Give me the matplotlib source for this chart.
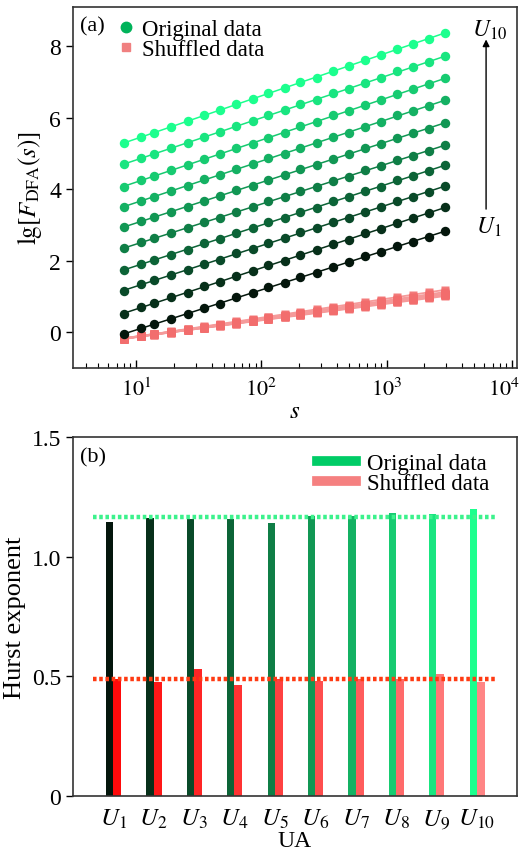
import numpy as np
import matplotlib.pyplot as plt
import matplotlib.transforms as mtransforms
from matplotlib.lines import Line2D
from matplotlib.colors import to_rgb

plt.rcParams['font.family'] = ['Liberation Serif', 'DejaVu Serif']
plt.rcParams['mathtext.fontset'] = 'stix'

# DFA window sizes
scales = [8, 11, 14, 19, 26, 35, 47, 63, 85, 114, 153, 205, 276, 371, 498,
          669, 899, 1208, 1623, 2181, 2931]

# lg F_DFA(s) for the original series U1..U10
orig_lgF = [
    [-0.06, 0.12, 0.22, 0.38, 0.51, 0.68, 0.80, 0.97, 1.09, 1.26, 1.38, 1.55, 1.66, 1.83, 1.95, 2.12, 2.24, 2.41, 2.52, 2.67, 2.83],
    [0.52, 0.70, 0.81, 0.97, 1.10, 1.28, 1.40, 1.58, 1.70, 1.87, 2.00, 2.17, 2.29, 2.46, 2.59, 2.76, 2.89, 3.06, 3.18, 3.32, 3.49],
    [1.16, 1.34, 1.45, 1.60, 1.74, 1.91, 2.03, 2.20, 2.32, 2.49, 2.62, 2.79, 2.91, 3.08, 3.20, 3.37, 3.49, 3.66, 3.79, 3.92, 4.09],
    [1.73, 1.91, 2.02, 2.17, 2.31, 2.49, 2.60, 2.78, 2.90, 3.07, 3.19, 3.37, 3.48, 3.66, 3.78, 3.95, 4.07, 4.25, 4.37, 4.50, 4.67],
    [2.34, 2.52, 2.62, 2.78, 2.91, 3.08, 3.20, 3.37, 3.49, 3.66, 3.78, 3.95, 4.06, 4.24, 4.35, 4.52, 4.64, 4.82, 4.93, 5.07, 5.23],
    [2.93, 3.11, 3.22, 3.37, 3.51, 3.68, 3.80, 3.97, 4.09, 4.26, 4.39, 4.56, 4.68, 4.85, 4.97, 5.14, 5.26, 5.43, 5.56, 5.69, 5.86],
    [3.50, 3.68, 3.79, 3.95, 4.09, 4.27, 4.39, 4.57, 4.69, 4.86, 4.99, 5.16, 5.28, 5.46, 5.58, 5.75, 5.88, 6.06, 6.18, 6.32, 6.49],
    [4.07, 4.25, 4.37, 4.52, 4.67, 4.85, 4.97, 5.15, 5.27, 5.44, 5.58, 5.76, 5.88, 6.06, 6.18, 6.35, 6.48, 6.67, 6.79, 6.93, 7.10],
    [4.69, 4.87, 4.99, 5.14, 5.29, 5.47, 5.59, 5.77, 5.89, 6.06, 6.20, 6.38, 6.50, 6.68, 6.80, 6.97, 7.10, 7.29, 7.41, 7.55, 7.72],
    [5.28, 5.47, 5.58, 5.74, 5.89, 6.07, 6.20, 6.38, 6.51, 6.68, 6.82, 7.00, 7.12, 7.31, 7.43, 7.61, 7.74, 7.93, 8.05, 8.20, 8.37],
]

# lg F_DFA(s) for the shuffled series
shuf_lgF = [
    [-0.18, -0.11, -0.06, 0.00, 0.07, 0.13, 0.20, 0.26, 0.32, 0.39, 0.45, 0.51, 0.57, 0.64, 0.70, 0.76, 0.83, 0.89, 0.95, 1.01, 1.08],
    [-0.18, -0.11, -0.06, 0.00, 0.06, 0.12, 0.18, 0.24, 0.31, 0.37, 0.43, 0.49, 0.55, 0.61, 0.67, 0.73, 0.79, 0.85, 0.91, 0.97, 1.04],
    [-0.18, -0.11, -0.05, 0.02, 0.09, 0.16, 0.23, 0.30, 0.37, 0.43, 0.50, 0.57, 0.64, 0.71, 0.77, 0.84, 0.91, 0.98, 1.05, 1.12, 1.18],
    [-0.18, -0.12, -0.07, -0.01, 0.06, 0.12, 0.18, 0.24, 0.30, 0.36, 0.42, 0.48, 0.54, 0.59, 0.65, 0.71, 0.77, 0.83, 0.89, 0.95, 1.01],
    [-0.18, -0.11, -0.06, 0.00, 0.07, 0.13, 0.20, 0.26, 0.32, 0.38, 0.45, 0.51, 0.57, 0.63, 0.70, 0.76, 0.82, 0.88, 0.95, 1.01, 1.07],
    [-0.18, -0.11, -0.06, 0.00, 0.07, 0.13, 0.19, 0.25, 0.31, 0.37, 0.43, 0.49, 0.56, 0.62, 0.68, 0.74, 0.80, 0.86, 0.93, 0.99, 1.05],
    [-0.17, -0.10, -0.05, 0.01, 0.08, 0.14, 0.20, 0.27, 0.33, 0.39, 0.46, 0.52, 0.58, 0.64, 0.71, 0.77, 0.83, 0.89, 0.96, 1.02, 1.08],
    [-0.19, -0.12, -0.07, -0.01, 0.06, 0.12, 0.19, 0.25, 0.31, 0.37, 0.44, 0.50, 0.56, 0.63, 0.69, 0.75, 0.82, 0.88, 0.94, 1.00, 1.07],
    [-0.18, -0.11, -0.06, 0.01, 0.08, 0.15, 0.21, 0.28, 0.34, 0.41, 0.47, 0.54, 0.60, 0.67, 0.73, 0.80, 0.86, 0.93, 0.99, 1.06, 1.12],
    [-0.17, -0.10, -0.05, 0.01, 0.07, 0.13, 0.19, 0.25, 0.32, 0.38, 0.44, 0.50, 0.56, 0.62, 0.68, 0.74, 0.80, 0.86, 0.92, 0.98, 1.05],
]

s_ticks = [10, 100, 1000, 10000]
s_ticklabels = [r'$10^{1}$', r'$10^{2}$', r'$10^{3}$', r'$10^{4}$']

ua_labels = [r'$U_{1}$', r'$U_{2}$', r'$U_{3}$', r'$U_{4}$', r'$U_{5}$',
             r'$U_{6}$', r'$U_{7}$', r'$U_{8}$', r'$U_{9}$', r'$U_{10}$']
hurst_orig = [1.145, 1.161, 1.158, 1.158, 1.142, 1.170, 1.172, 1.182, 1.179, 1.199]
hurst_shuf = [0.490, 0.474, 0.532, 0.465, 0.488, 0.479, 0.488, 0.490, 0.508, 0.474]


def blend(c0, c1, n):
    a, b = np.array(to_rgb(c0)), np.array(to_rgb(c1))
    return [tuple(a + (b - a) * t) for t in np.linspace(0, 1, n)]


greens = blend('#04160c', '#1cff8e', len(orig_lgF))
reds = blend('#ff0a0a', '#ff8585', len(hurst_shuf))
shuf_color = '#f26d6d'

fig = plt.figure(figsize=(5.24, 8.54), dpi=100)
ax1 = fig.add_axes([0.139, 0.568, 0.848, 0.423])
ax2 = fig.add_axes([0.139, 0.067, 0.848, 0.420])

for ax in (ax1, ax2):
    for sp in ax.spines.values():
        sp.set_color('#333333')
        sp.set_linewidth(1.2)

# (a) fluctuation functions with linear fits in log-log space
logs = np.log10(scales)
s_ends = [scales[0], scales[-1]]
for y, c in zip(shuf_lgF, reds):
    k, b = np.polyfit(logs, y, 1)
    ax1.plot(s_ends, [k * logs[0] + b, k * logs[-1] + b], color='#f59a9a', lw=1.3, zorder=2)
    ax1.plot(scales, y, 's', color=shuf_color, ms=5.5, mec='none', alpha=0.9, zorder=3)

for y, c in zip(orig_lgF, greens):
    k, b = np.polyfit(logs, y, 1)
    ax1.plot(s_ends, [k * logs[0] + b, k * logs[-1] + b], color=c, lw=1.1, zorder=2)
    ax1.plot(scales, y, 'o', color=c, ms=6.8, mec='none', zorder=3)

ax1.set_xscale('log')
ax1.set_xlim(3.13, 1.1e4)
ax1.set_ylim(-1, 9.1)
ax1.set_xticks(s_ticks)
ax1.set_xticklabels(s_ticklabels)
ax1.set_yticks([0, 2, 4, 6, 8])
ax1.tick_params(axis='x', which='major', direction='in', length=6, width=1, labelsize=16, pad=7)
ax1.tick_params(axis='x', which='minor', direction='in', length=3.5, width=0.8)
ax1.tick_params(axis='y', direction='out', length=5, width=1, labelsize=17)
# nudge the last label so it stays inside the figure
last = ax1.xaxis.get_major_ticks()[-1].label1
last.set_transform(last.get_transform() +
                   mtransforms.ScaledTranslation(-6 / 72, 0, fig.dpi_scale_trans))
ax1.set_xlabel(r'$s$', fontsize=18, labelpad=0)
ax1.set_ylabel(r'$\mathrm{lg}[F_{\mathrm{DFA}}(s)]$', fontsize=18, labelpad=4)
ax1.text(0.016, 0.947, '(a)', transform=ax1.transAxes, fontsize=16, va='center')

handles1 = [Line2D([], [], marker='o', ls='none', color='#00b35a', ms=7.5),
            Line2D([], [], marker='s', ls='none', color='#f08080', ms=5.5)]
ax1.legend(handles1, ['Original data', 'Shuffled data'], loc='upper left',
           bbox_to_anchor=(0.068, 1.011), frameon=False, fontsize=16.5,
           handlelength=0.6, handletextpad=0.4, borderpad=0.2, labelspacing=-0.05)

ax1.annotate('', xy=(0.930, 0.917), xytext=(0.930, 0.432), xycoords='axes fraction',
             arrowprops=dict(arrowstyle='-|>', color='black', lw=1, mutation_scale=10))
ax1.text(0.937, 0.936, r'$U_{10}$', transform=ax1.transAxes, fontsize=17, ha='center', va='center')
ax1.text(0.935, 0.391, r'$U_{1}$', transform=ax1.transAxes, fontsize=17, ha='center', va='center')

# (b) Hurst exponents per UA
x = np.arange(1, len(hurst_orig) + 1)
ax2.bar(x - 0.09, hurst_orig, width=0.18, color=greens, zorder=2)
ax2.bar(x + 0.1, hurst_shuf, width=0.2, color=reds, zorder=2)
ax2.plot([0.5, 10.45], [np.mean(hurst_orig)] * 2, ls=(0, (0.8, 0.6)), lw=3.2,
         color='#3cf28c', zorder=3)
ax2.plot([0.5, 10.45], [np.mean(hurst_shuf)] * 2, ls=(0, (0.8, 0.6)), lw=3.2,
         color='#ff3a12', zorder=3)

ax2.set_xlim(0, 11)
ax2.set_ylim(0, 1.5)
ax2.set_xticks(x)
ax2.set_xticklabels(ua_labels)
ax2.set_yticks([0, 0.5, 1.0, 1.5])
ax2.set_yticklabels(['0', '0.5', '1.0', '1.5'])
ax2.tick_params(axis='x', length=0, labelsize=18, pad=8)
ax2.tick_params(axis='y', direction='out', length=5, width=1, labelsize=17)
ax2.set_xlabel('UA', fontsize=17, labelpad=0)
ax2.set_ylabel('Hurst exponent', fontsize=19, labelpad=4)
ax2.text(0.016, 0.944, '(b)', transform=ax2.transAxes, fontsize=16, va='center')

handles2 = [Line2D([], [], color='#00cc66', lw=7), Line2D([], [], color='#f58080', lw=7)]
ax2.legend(handles2, ['Original data', 'Shuffled data'], loc='upper right',
           bbox_to_anchor=(0.974, 1.0), frameon=False, fontsize=16.5,
           handlelength=1.7, handletextpad=0.5, borderpad=0.2, labelspacing=-0.05)

fig.savefig('out.png', dpi=100)
